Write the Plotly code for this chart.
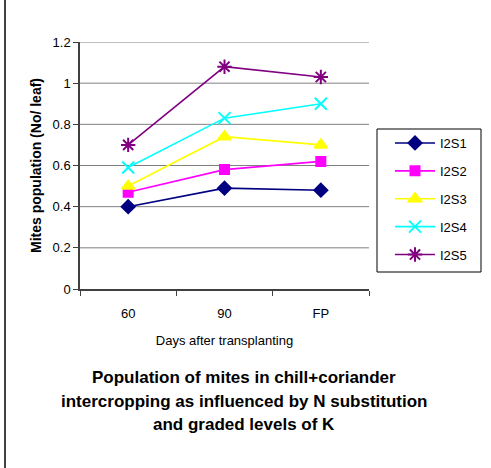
import plotly.graph_objects as go

# Sampling stages (x categories)
stages = ["60", "90", "FP"]

# Mite counts per leaf for each treatment
i2s1 = [0.40, 0.49, 0.48]
i2s2 = [0.47, 0.58, 0.62]
i2s3 = [0.50, 0.74, 0.70]
i2s4 = [0.59, 0.83, 0.90]
i2s5 = [0.70, 1.08, 1.03]

y_ticks = [0, 0.2, 0.4, 0.6, 0.8, 1, 1.2]
y_tick_text = ["0", "0.2", "0.4", "0.6", "0.8", "1", "1.2"]

title_lines = [
    "Population of mites in chill+coriander",
    "intercropping as influenced by N substitution",
    "and graded levels of K",
]

series = [
    ("I2S1", i2s1, "#000080", "diamond", 10),
    ("I2S2", i2s2, "#FF00FF", "square", 9),
    ("I2S3", i2s3, "#FFFF00", "triangle-up", 11),
    ("I2S4", i2s4, "#00FFFF", "x-thin-open", 12),
    ("I2S5", i2s5, "#800080", "asterisk-open", 12),
]

# stage positions on a linear axis, labelled with the stage names
xpos = list(range(len(stages)))
bounds = [i - 0.5 for i in range(len(stages) + 1)]
x_lo, x_hi = bounds[0], bounds[-1]

grid_col = "#808080"
font_main = "Liberation Sans, Arial, sans-serif"

fig = go.Figure()

# horizontal grid at every y tick, drawn beneath the series
gx, gy = [], []
for v in y_ticks[1:]:
    gx += [x_lo, x_hi, None]
    gy += [v, v, None]
fig.add_trace(go.Scatter(
    x=gx, y=gy, mode="lines", showlegend=False, hoverinfo="skip",
    line=dict(color=grid_col, width=1),
))

for name, vals, color, sym, size in series:
    fig.add_trace(go.Scatter(
        x=xpos, y=vals, name=name, mode="lines+markers", legendgroup=name,
        line=dict(color=color, width=1.6),
        marker=dict(symbol=sym, size=size, color=color,
                    line=dict(color=color, width=2)),
    ))

W, H = 491, 468
L, R, T, B = 80, 122, 42, 179
pw = W - L - R
ph = H - T - B

def px_x(p):
    return (p - L) / pw

def px_y(p):
    return (H - B - p) / ph

annotations = [
    dict(text="<b>%s</b>" % line, xref="paper", yref="paper",
         x=px_x(244), y=px_y(yc), xanchor="center", yanchor="middle",
         showarrow=False, font=dict(size=17, family=font_main, color="black"))
    for line, yc in zip(title_lines, [377, 401, 425])
]

fig.update_layout(
    width=W, height=H,
    margin=dict(l=L, r=R, t=T, b=B),
    paper_bgcolor="white", plot_bgcolor="white",
    font=dict(family=font_main, size=12, color="black"),
    showlegend=True,
    legend=dict(
        x=px_x(390), y=px_y(128), xanchor="left", yanchor="top",
        bgcolor="rgba(0,0,0,0)", borderwidth=0,
        font=dict(size=13, family=font_main),
        tracegroupgap=8, itemwidth=40,
    ),
    xaxis=dict(
        range=[x_lo, x_hi],
        tickmode="array", tickvals=xpos, ticktext=stages, ticks="",
        minor=dict(tickmode="array", tickvals=bounds, ticks="outside",
                   ticklen=5, tickcolor="#404040", showgrid=False),
        showline=True, linecolor="#404040", linewidth=1.5,
        showgrid=False, zeroline=False, ticklabelstandoff=12,
        tickfont=dict(size=13),
        title=dict(text="Days after transplanting", font=dict(size=13), standoff=16),
    ),
    # top edge of the plot frame
    xaxis2=dict(
        overlaying="x", side="top", range=[x_lo, x_hi],
        showline=True, linecolor=grid_col, linewidth=1,
        showticklabels=False, ticks="", showgrid=False, zeroline=False,
    ),
    yaxis=dict(
        range=[0, 1.2], tickmode="array", tickvals=y_ticks, ticktext=y_tick_text,
        showline=True, linecolor="#404040", linewidth=1.5,
        ticks="outside", ticklen=5, tickcolor="#404040",
        showgrid=False, tickfont=dict(size=13), zeroline=False,
        title=dict(text="<b>Mites population (No/ leaf)</b>", font=dict(size=14), standoff=8),
    ),
    # right edge of the plot frame
    yaxis2=dict(
        overlaying="y", side="right", range=[0, 1.2],
        showline=True, linecolor=grid_col, linewidth=1.5,
        showticklabels=False, ticks="", showgrid=False, zeroline=False,
    ),
    shapes=[
        # legend box
        dict(type="rect", xref="paper", yref="paper",
             x0=px_x(377), x1=px_x(481), y0=px_y(272), y1=px_y(129),
             line=dict(color="black", width=1)),
        # left border of the chart frame
        dict(type="line", xref="paper", yref="paper",
             x0=px_x(5), x1=px_x(5), y0=px_y(0), y1=px_y(H),
             line=dict(color="#404040", width=2)),
    ],
    annotations=annotations,
)

fig.write_html("out.html")
